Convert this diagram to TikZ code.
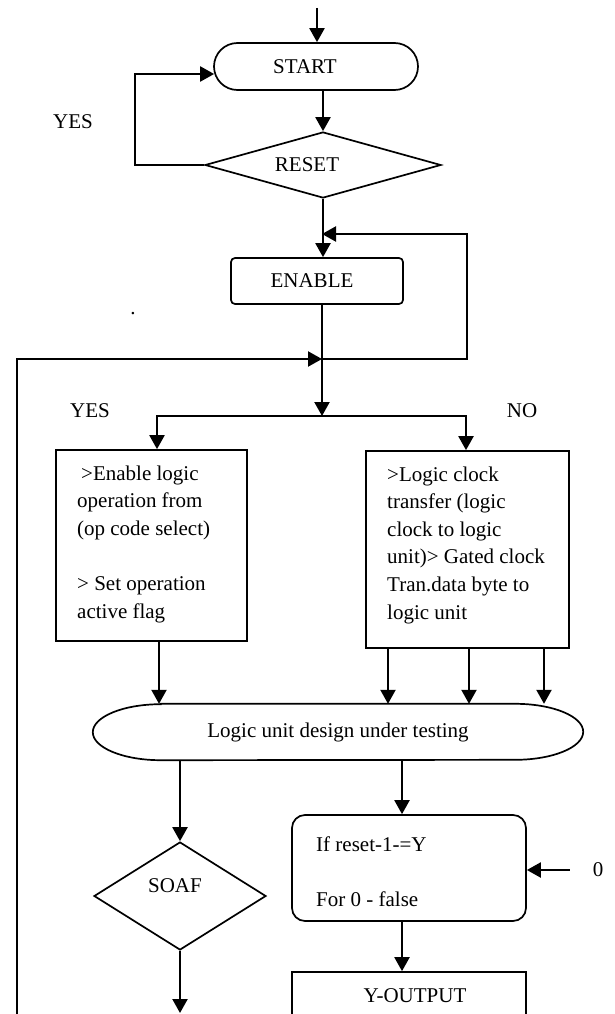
\documentclass[tikz,border=0pt]{standalone}
\usepackage{fontspec}
\setmainfont{Liberation Serif}
\usetikzlibrary{arrows.meta,shapes.geometric,calc}
\begin{document}
\begin{tikzpicture}[x=1pt,y=-1pt,
  every node/.style={font=\fontsize{21pt}{27.6pt}\selectfont, inner sep=0pt},
  shp/.style={draw, line width=1.7pt},
  arr/.style={line width=2.2pt, -{Triangle[length=14pt,width=15pt]}},
  txt/.style={anchor=west, align=left}]
\fill[white] (0,0) rectangle (614,1014);
\useasboundingbox (0,0) rectangle (614,1014);
\clip (0,0) rectangle (614,1014);

% nodes
\node[shp, rounded corners=23.5pt, minimum width=204pt, minimum height=47pt,
      label={[xshift=-11pt]center:START}] (start) at (316,66.5) {};
\node[shp, diamond, minimum width=236pt, minimum height=66pt,
      label={[xshift=-16pt]center:RESET}] (reset) at (323,165) {};
\node[shp, rounded corners=4pt, minimum width=172pt, minimum height=46pt,
      label={[xshift=-5pt]center:ENABLE}] (enable) at (317,281) {};
\node (yes1) at (73,122) {YES};
\node (yes2) at (90,411) {YES};
\node (no) at (522,411) {NO};
\node[anchor=base] (dot) at (133,314) {.};

\node[shp, minimum width=191pt, minimum height=191pt] (lbox) at (151.5,545.5) {};
\node[txt] (ltxt) at (77,544) {\hspace{4pt}>Enable logic\\operation from\\(op code select)\\[27.6pt]> Set operation\\active flag};
\node[shp, minimum width=203pt, minimum height=197pt] (rbox) at (467.5,549.5) {};
\node[txt] (rtxt) at (387,545) {>Logic clock\\transfer (logic\\clock to logic\\unit)> Gated clock\\Tran.data byte to\\logic unit};

\node[minimum width=490pt, minimum height=56pt] (lu) at (338,732) {Logic unit design under testing};
\draw[line width=1.7pt] ($(lu.north west)+(68,0)$) -- ($(lu.north east)+(-68,0)$)
  arc[start angle=90,end angle=-90,x radius=68pt,y radius=28pt]
  -- ($(lu.south west)+(68,0)$)
  arc[start angle=270,end angle=90,x radius=68pt,y radius=28pt] -- cycle;

\node[shp, diamond, minimum width=172pt, minimum height=108pt,
      label={[xshift=-5pt,yshift=10pt]center:SOAF}] (soaf) at (180,896) {};
\node[shp, rounded corners=13pt, minimum width=234pt, minimum height=106pt] (ifb) at (409,868) {};
\node[txt] (iftxt) at (316,871.5) {If reset-1-=Y\\[27.6pt]For 0 - false};
\node[inner xsep=23pt] (zero) at (598,870) {0};
\node[shp, minimum width=234pt, minimum height=60pt,
      label={[xshift=6pt,yshift=6pt]center:Y-OUTPUT}] (yout) at (409,1002) {};

% coordinates
\coordinate (top) at (317,8);
\coordinate (j) at (322,359);
\coordinate (m) at (322,234);
\coordinate (br) at (322,416);
\coordinate (lb) at (17,1016);
\coordinate (send) at (180,1013);
\coordinate (la) at ($(lbox.south)+(7.5,0)$);
\coordinate (ra) at ($(rbox.south)+(-79.5,0)$);
\coordinate (rb) at ($(rbox.south)+(1.5,0)$);
\coordinate (rc) at ($(rbox.south)+(76.5,0)$);
\coordinate (lo) at ($(lu.south)+(64,0)$);

% connectors
\draw[arr] (top) -- (top |- start.north);
\draw[arr] (start.south -| reset.north) -- (reset.north);
\draw[arr] (reset.west) -- ++(-69,0) |- ($(start.west)+(1,7.5)$);
\draw[arr] (reset.south) -- (reset.south |- enable.north);
\draw[arr] (j) -- ++(145,0) |- (m);
\draw[arr] (lb) |- (j);
\draw[arr] (enable.south -| br) -- (br);
\draw[arr] (br) -| ($(lbox.north)+(5.5,0)$);
\draw[arr] (br) -| ($(rbox.north)+(-1.5,0)$);
\draw[arr] (la) -- (la |- lu.north);
\draw[arr] (ra) -- (ra |- lu.north);
\draw[arr] (rb) -- (rb |- lu.north);
\draw[arr] (rc) -- (rc |- lu.north);
\draw[arr] (soaf.north |- lu.south) -- (soaf.north);
\draw[arr] (lo) -- (lo |- ifb.north);
\draw[arr] (zero.west) -- (zero.west -| ifb.east);
\draw[arr] (ifb.south -| lo) -- (yout.north -| lo);
\draw[arr] (soaf.south) -- (send);
\end{tikzpicture}
\end{document}
